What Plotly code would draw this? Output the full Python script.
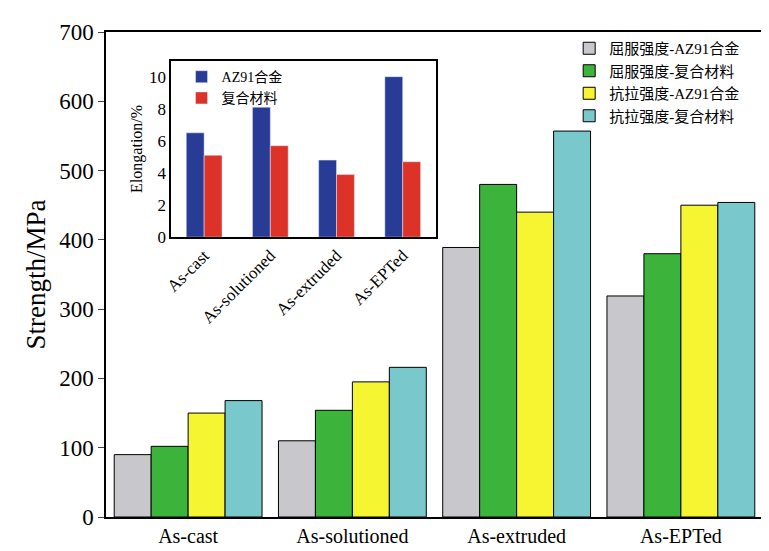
import plotly.graph_objects as go

cats = ["As-cast", "As-solutioned", "As-extruded", "As-EPTed"]
ys_az91 = [90, 110, 389, 319]
ys_comp = [102, 154, 480, 380]
uts_az91 = [150, 195, 440, 450]
uts_comp = [168, 216, 557, 454]
names = ["屈服强度-AZ91合金", "屈服强度-复合材料", "抗拉强度-AZ91合金", "抗拉强度-复合材料"]
colors = ["#c8c8cc", "#3cb43c", "#f5f532", "#78c8cc"]

el_az91 = [6.5, 8.1, 4.8, 10.0]
el_comp = [5.1, 5.7, 3.9, 4.7]

font = "Liberation Serif, Noto Sans CJK SC"
fig = go.Figure()
for vals, n, c in zip([ys_az91, ys_comp, uts_az91, uts_comp], names, colors):
    fig.add_trace(go.Bar(x=cats, y=vals, name=n, marker=dict(color=c, line=dict(color="black", width=1))))

# inset bars, narrower than the main ones
fig.add_trace(go.Bar(x=cats, y=el_az91, name="AZ91合金", xaxis="x2", yaxis="y2", width=0.27, offset=-0.27,
                     marker=dict(color="#283c96"), legend="legend2"))
fig.add_trace(go.Bar(x=cats, y=el_comp, name="复合材料", xaxis="x2", yaxis="y2", width=0.27, offset=0,
                     marker=dict(color="#dc3228"), legend="legend2"))

fig.update_layout(
    width=769, height=551, margin=dict(l=98, r=14, t=12, b=28),
    plot_bgcolor="white", paper_bgcolor="white",
    font=dict(family=font, size=16, color="black"),
    barmode="group", bargap=0.1, bargroupgap=0,
    xaxis=dict(showline=True, mirror=True, linecolor="black", linewidth=1.5, ticks="", tickfont=dict(size=20)),
    yaxis=dict(range=[0, 700], dtick=100, showline=True, mirror=True, linecolor="black", linewidth=1.5,
               ticks="outside", ticklen=6, showgrid=False, tickfont=dict(size=23),
               title=dict(text="Strength/MPa", font=dict(size=27), standoff=6)),
    xaxis2=dict(domain=[0.099, 0.502], anchor="y2", showline=True, mirror=True, linecolor="black", linewidth=1.5,
                tickangle=-45, tickfont=dict(size=17), ticks=""),
    yaxis2=dict(domain=[0.577, 0.941], anchor="x2", range=[0, 11], dtick=2, showline=True, mirror=True,
                linecolor="black", linewidth=1.5, showgrid=False, ticks="", tickfont=dict(size=17),
                title=dict(text="Elongation/%", font=dict(size=16), standoff=2)),
    legend=dict(x=0.705, y=1.0, xanchor="left", yanchor="top", bgcolor="rgba(0,0,0,0)",
                font=dict(size=15), tracegroupgap=0, itemwidth=30),
    legend2=dict(x=0.115, y=0.94, xanchor="left", yanchor="top", bgcolor="rgba(0,0,0,0)",
                 font=dict(size=14), tracegroupgap=0, itemwidth=30),
)
fig.write_html("out.html")
